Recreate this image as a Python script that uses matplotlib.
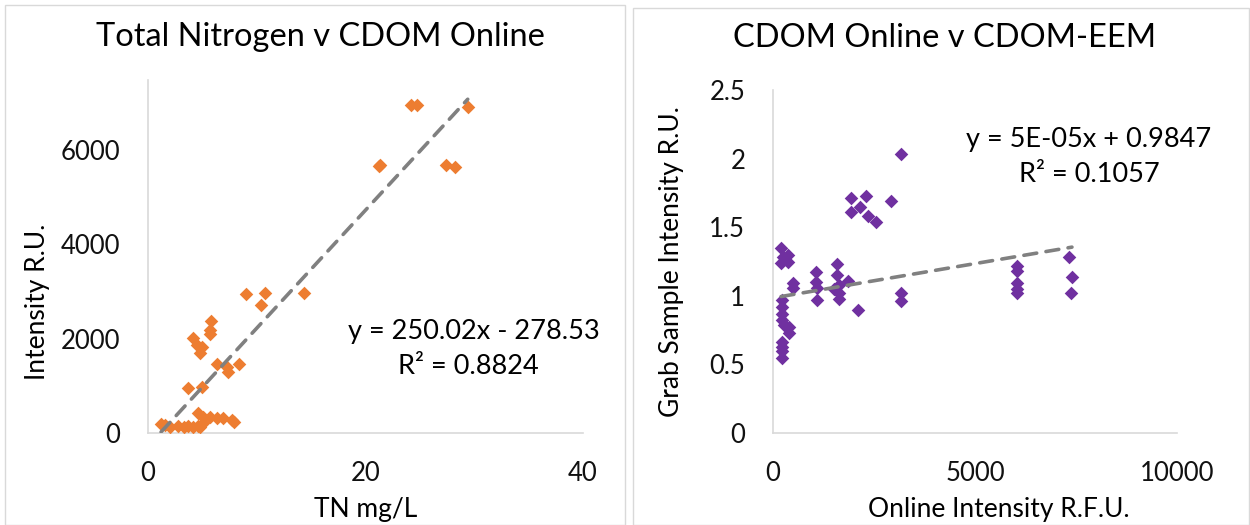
import matplotlib
matplotlib.use("Agg")
import matplotlib.pyplot as plt
from matplotlib.patches import Rectangle

plt.rcParams['font.family'] = ['Lato', 'DejaVu Sans']

tn_x = [1.2, 1.6, 2.0, 2.8, 3.3, 3.7, 4.1, 4.6, 4.8, 5.1,
        4.6, 5.1, 5.7, 6.3, 6.9, 7.7, 7.9,
        3.7, 5.0,
        6.3, 7.3, 7.4, 8.4,
        4.1, 4.5, 5.0, 4.8, 5.7, 5.7, 5.8,
        9.0, 10.8, 10.4, 14.3,
        21.2, 21.3, 27.4, 28.2,
        24.2, 24.7, 29.4]
tn_y = [190, 170, 130, 150, 130, 140, 130, 140, 130, 210,
        420, 340, 340, 320, 320, 280, 230,
        950, 970,
        1460, 1400, 1290, 1460,
        2010, 1860, 1820, 1690, 2180, 2100, 2370,
        2940, 2960, 2720, 2960,
        5650, 5680, 5680, 5640,
        6950, 6940, 6900]

# Datos del grafico de la derecha (online, EEM)
on_x = [3180, 1940, 2300, 2150, 1940, 2350, 2540, 2910,
        200, 370, 250, 370, 200,
        490, 490,
        220, 220, 220, 220, 270, 400, 400,
        220, 220, 220, 220,
        1060, 1060, 1090, 1090,
        1580, 1580, 1630, 1500, 1630, 1630,
        1850, 2100, 3160, 3160,
        6040, 6030, 6050, 6030, 6050,
        7330, 7400, 7380]
eem_y = [2.03, 1.71, 1.73, 1.65, 1.61, 1.58, 1.54, 1.69,
         1.35, 1.30, 1.28, 1.25, 1.24,
         1.09, 1.06,
         0.97, 0.92, 0.87, 0.82, 0.79, 0.77, 0.73,
         0.66, 0.63, 0.60, 0.55,
         1.17, 1.10, 1.06, 0.97,
         1.23, 1.15, 1.08, 1.05, 1.02, 0.98,
         1.11, 0.90, 1.02, 0.96,
         1.22, 1.18, 1.09, 1.05, 1.02,
         1.28, 1.14, 1.02]

# Lineas de tendencia (formulas del grafico)
m1, b1 = 250.02, -278.53
m2, b2 = 5e-05, 0.9847

fig = plt.figure(figsize=(12.5, 5.25), dpi=100)

# bordes de los dos paneles
fig.patches.append(Rectangle((5/1250, 0), 620/1250, 520/525, transform=fig.transFigure,
                             fill=False, edgecolor='#D9D9D9', lw=1))
fig.patches.append(Rectangle((633/1250, 0), 616/1250, 517/525, transform=fig.transFigure,
                             fill=False, edgecolor='#D9D9D9', lw=1))

ax1 = fig.add_axes([148/1250, 92/525, 435/1250, 353/525])
ax2 = fig.add_axes([773/1250, 92/525, 404/1250, 343/525])

for ax in (ax1, ax2):
    for s in ('top', 'right'):
        ax.spines[s].set_visible(False)
    for s in ('left', 'bottom'):
        ax.spines[s].set_color('#D9D9D9')
        ax.spines[s].set_linewidth(1.2)
    ax.tick_params(length=0, labelsize=18.5, pad=20, colors='#111111')

# izquierda
ax1.scatter(tn_x, tn_y, marker='D', s=48, color='#ED7D31', linewidths=0, zorder=3)
xs = [min(tn_x), max(tn_x)]
ax1.plot(xs, [m1 * x + b1 for x in xs], color='#808080', lw=2.6,
         linestyle=(0, (3.6, 2.6)), dash_capstyle='round', zorder=4)
ax1.set_xlim(0, 40)
ax1.set_ylim(0, 7480)
ax1.set_xticks([0, 20, 40])
ax1.set_yticks([0, 2000, 4000, 6000])
ax1.set_xlabel('TN mg/L', fontsize=19)
ax1.xaxis.set_label_coords(0.5, -0.218)
ax1.xaxis.label.set_va('center')
ax1.set_ylabel('Intensity R.U.', fontsize=19)
ax1.yaxis.set_label_coords(-0.253, 0.371)
ax1.yaxis.label.set_va('center')
fig.text(600/1250, 1 - 332/525, 'y = 250.02x - 278.53', ha='right', va='center', fontsize=19.5)
fig.text(468/1250, 1 - 366/525, 'R² = 0.8824', ha='center', va='center', fontsize=19.5)

# derecha
ax2.scatter(on_x, eem_y, marker='D', s=48, color='#7030A0', linewidths=0, zorder=3)
xs2 = [min(on_x), max(on_x)]
ax2.plot(xs2, [m2 * x + b2 for x in xs2], color='#808080', lw=2.6,
         linestyle=(0, (3.6, 2.6)), dash_capstyle='round', zorder=4)
ax2.set_xlim(0, 10000)
ax2.set_ylim(0, 2.5)
ax2.set_xticks([0, 5000, 10000])
ax2.set_yticks([0, 0.5, 1, 1.5, 2, 2.5])
ax2.set_yticklabels(['0', '0.5', '1', '1.5', '2', '2.5'])
ax2.set_xlabel('Online Intensity R.F.U.', fontsize=19)
ax2.xaxis.set_label_coords(0.558, -0.224)
ax2.xaxis.label.set_va('center')
ax2.set_ylabel('Grab Sample Intensity R.U.', fontsize=19)
ax2.yaxis.set_label_coords(-0.25, 0.499)
ax2.yaxis.label.set_va('center')
fig.text(1089/1250, 1 - 140/525, 'y = 5E-05x + 0.9847', ha='center', va='center', fontsize=19.5)
fig.text(1089/1250, 1 - 175/525, 'R² = 0.1057', ha='center', va='center', fontsize=19.5)

fig.text(320/1250, 1 - 37/525, 'Total Nitrogen v CDOM Online', ha='center', va='center', fontsize=23.5)
fig.text(945/1250, 1 - 38/525, 'CDOM Online v CDOM-EEM', ha='center', va='center', fontsize=23.5)

fig.savefig('out.png', dpi=100)
